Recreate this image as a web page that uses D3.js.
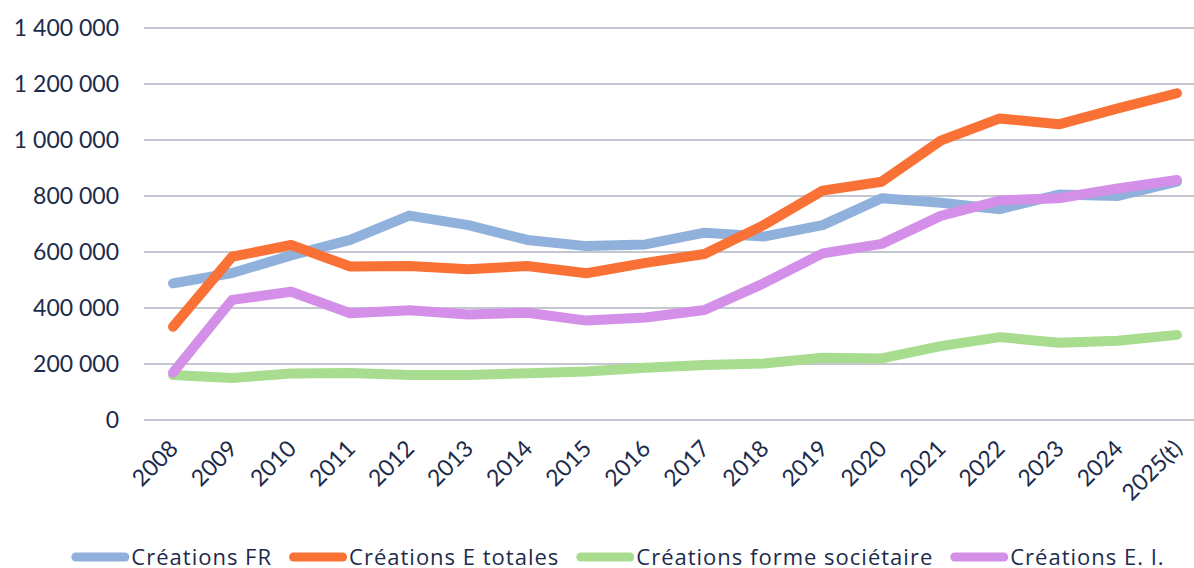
<!DOCTYPE html>
<html>
<head>
<meta charset="utf-8">
<script src="https://cdn.jsdelivr.net/npm/d3@7"></script>
<style>
  html, body { margin: 0; padding: 0; background: #fff; }
  svg { display: block; }
  text { fill: #1c2b4b; }
</style>
</head>
<body>
<svg id="chart" width="1194" height="568"></svg>
<script>
// Categories and series
const years = ["2008","2009","2010","2011","2012","2013","2014","2015","2016","2017",
               "2018","2019","2020","2021","2022","2023","2024","2025(t)"];
const creationsFR = [488000,525000,588000,643000,730000,696000,643000,621000,627000,669000,
                     655000,696000,792000,776000,753000,805000,800000,851000];
const creationsETotales = [333000,583000,625000,548000,550000,538000,550000,524000,561000,593000,
                           696000,819000,851000,998000,1077000,1056000,1113000,1167000];
const creationsSocietaire = [161000,150000,166000,168000,161000,161000,167000,173000,187000,196000,
                             202000,222000,220000,264000,296000,276000,283000,304000];
const creationsEI = [169000,429000,458000,381000,392000,377000,383000,355000,366000,393000,
                     488000,595000,629000,729000,784000,792000,827000,857000];
const seriesNames = ["Créations FR","Créations E totales","Créations forme sociétaire","Créations E. I."];
const yTicks = [0,200000,400000,600000,800000,1000000,1200000,1400000];

const series = [
  { name: seriesNames[0], values: creationsFR, color: "#8fb1db" },
  { name: seriesNames[1], values: creationsETotales, color: "#f97135" },
  { name: seriesNames[2], values: creationsSocietaire, color: "#a8dc8f" },
  { name: seriesNames[3], values: creationsEI, color: "#d490e8" }
];

const axisFont = "Lato, 'Noto Sans', sans-serif";
const legendFont = "'Open Sans', Lato, sans-serif";

const svg = d3.select("#chart");
const fmt = d3.formatLocale({ decimal: ",", thousands: " ", grouping: [3], currency: ["", " €"] }).format(",d");

const x = d3.scalePoint().domain(years).range([143.5, 1206.5]).padding(0.5);
const y = d3.scaleLinear().domain([0, 1400000]).range([420, 28]);

// Horizontal gridlines
svg.append("g")
  .selectAll("line")
  .data(yTicks)
  .join("line")
  .attr("x1", 144).attr("x2", 1206)
  .attr("y1", d => y(d)).attr("y2", d => y(d))
  .attr("stroke", "#b1b5c0").attr("stroke-width", 1.6);

// Y axis labels
const yAxis = svg.append("g")
  .attr("transform", "translate(119,0)")
  .call(d3.axisLeft(y).tickValues(yTicks).tickFormat(fmt).tickSize(0).tickPadding(0));
yAxis.select(".domain").remove();
yAxis.selectAll("text")
  .style("font-family", axisFont)
  .style("font-size", "23px")
  .style("fill", "#1c2b4b");

// X axis labels, rotated
const xAxis = svg.append("g")
  .attr("transform", "translate(0,420)")
  .call(d3.axisBottom(x).tickSize(0).tickPadding(0));
xAxis.select(".domain").remove();
xAxis.selectAll("text")
  .style("font-family", axisFont)
  .style("font-size", "23px")
  .style("fill", "#1c2b4b")
  .attr("text-anchor", "end")
  .attr("dy", null)
  .attr("y", 0)
  .attr("transform", "translate(6,30) rotate(-45)");

// Lines
const line = d3.line()
  .x((d, i) => x(years[i]))
  .y(d => y(d));

svg.append("g")
  .selectAll("path")
  .data(series)
  .join("path")
  .attr("d", d => line(d.values))
  .attr("fill", "none")
  .attr("stroke", d => d.color)
  .attr("stroke-width", 10)
  .attr("stroke-linecap", "round")
  .attr("stroke-linejoin", "round");

// Legend
const legend = svg.append("g").attr("transform", "translate(0,557)");
const swatchW = 58;
const items = legend.selectAll("g")
  .data(series)
  .join("g");
items.append("line")
  .attr("x1", 4.5).attr("x2", swatchW - 4.5)
  .attr("y1", 0).attr("y2", 0)
  .attr("stroke", d => d.color)
  .attr("stroke-width", 9)
  .attr("stroke-linecap", "round");
items.append("text")
  .attr("x", swatchW + 2)
  .attr("y", 8)
  .style("font-family", legendFont)
  .style("font-size", "22px")
  .style("letter-spacing", "1px")
  .text(d => d.name);

const gap = 17;
const widths = [];
items.each(function () {
  widths.push(swatchW + 2 + d3.select(this).select("text").node().getComputedTextLength());
});
const total = d3.sum(widths) + gap * (widths.length - 1);
let cx = 618 - total / 2;
items.each(function (d, i) {
  d3.select(this).attr("transform", `translate(${cx},0)`);
  cx += widths[i] + gap;
});
</script>
</body>
</html>
